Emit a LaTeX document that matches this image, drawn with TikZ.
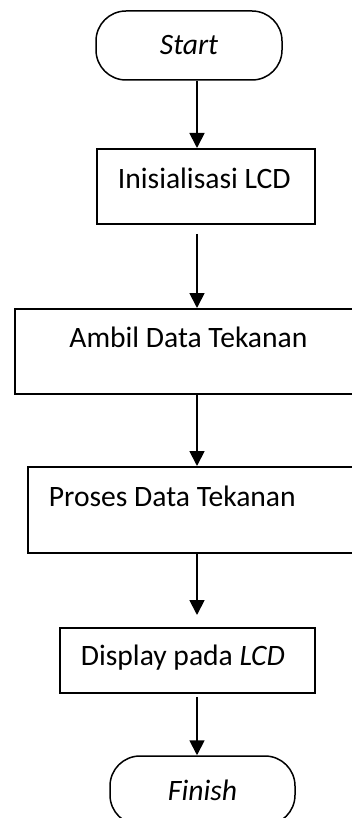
\documentclass[tikz,border=0pt]{standalone}
\usepackage{fontspec}
\setmainfont{Carlito}
\usetikzlibrary{arrows.meta,positioning,calc}

\begin{document}
\begin{tikzpicture}[
  x=1pt,y=-1pt,
  every node/.style={font=\fontsize{29.6}{35}\selectfont},
  termbox/.style={draw,line width=1.5pt,rounded corners=30pt,minimum width=186pt,
                  minimum height=69pt,inner sep=0pt,font=\fontsize{29.6}{35}\selectfont\itshape},
  procbox/.style={draw,line width=1.8pt,anchor=north west,inner xsep=21pt,inner ysep=0pt,
                  align=flush left},
  flow/.style={line width=1.8pt,-{Triangle[width=15pt,length=15pt]}},
]
  \useasboundingbox (0,0) rectangle (352,818);
  \fill[white] (0,0) rectangle (352,818);
  \clip (0,0) rectangle (352,818);
  % Start
  \node[termbox] (start) at (189,45.5) {Start};
  % Box 1
  \node[procbox,text width=176pt,text height=40pt,text depth=35pt] (init) at (96,148) {Inisialisasi LCD};
  % Box 2
  \node[procbox,align=flush center,text width=305pt,text height=39pt,text depth=46pt] (ambil) at (14,308) {Ambil Data Tekanan};
  % Box 3
  \node[procbox,text width=291pt,text height=40pt,text depth=46pt] (proses) at (27,466) {Proses Data Tekanan};
  % Box 4
  \node[procbox,text width=213pt,text height=38pt,text depth=27pt] (disp) at (59,627) {Display pada \textit{LCD}};
  % Finish
  \node[termbox,minimum width=185pt] (finish) at (202.5,790.5) {Finish};
  % arrows
  \coordinate (ax) at (197,0);
  \draw[flow] (start.south -| ax) -- (init.north -| ax);
  \draw[flow,shorten <=9pt] (init.south -| ax) -- (ambil.north -| ax);
  \draw[flow] (ambil.south -| ax) -- (proses.north -| ax);
  \draw[flow,shorten >=12pt] (proses.south -| ax) -- (disp.north -| ax);
  \draw[flow,shorten <=3pt] (disp.south -| ax) -- (finish.north -| ax);
\end{tikzpicture}
\end{document}
